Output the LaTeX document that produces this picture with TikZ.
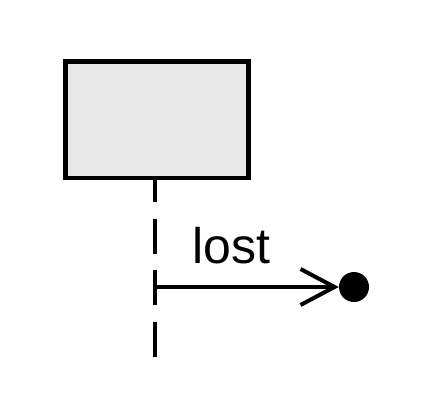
\documentclass[tikz,border=0pt]{standalone}
\usepackage{fontspec}
\setmainfont{Liberation Sans}
\usetikzlibrary{arrows.meta}
\begin{document}
\begin{tikzpicture}[x=1pt,y=-1pt,
  objbox/.style={draw=black, line width=4.5pt, fill=black!9, minimum width=183pt, minimum height=116.5pt, inner sep=0pt},
  lifeline/.style={line width=4pt, dash pattern=on 35pt off 16.5pt, dash phase=11pt},
  msg/.style={line width=4pt, -{Straight Barb[length=34pt, width=36pt, line width=4pt]}},
  lostdot/.style={circle, fill=black, draw=none, minimum size=30pt, inner sep=0pt},
  lbl/.style={font=\fontsize{50pt}{60pt}\selectfont, inner sep=0pt, anchor=base}]
\useasboundingbox (0,0) rectangle (427,408);
\node[objbox] (obj) at (157,119.75) {};
\coordinate (lifetop) at (155,178);
\coordinate (lifeend) at (155,358);
\draw[lifeline] (lifetop) -- (lifeend);
\coordinate (msgstart) at (155,287);
\node[lostdot] (dot) at (354,287) {};
\draw[msg] (msgstart) -- (dot.west);
\node[lbl] (label) at (231,263) {lost};
\end{tikzpicture}
\end{document}
